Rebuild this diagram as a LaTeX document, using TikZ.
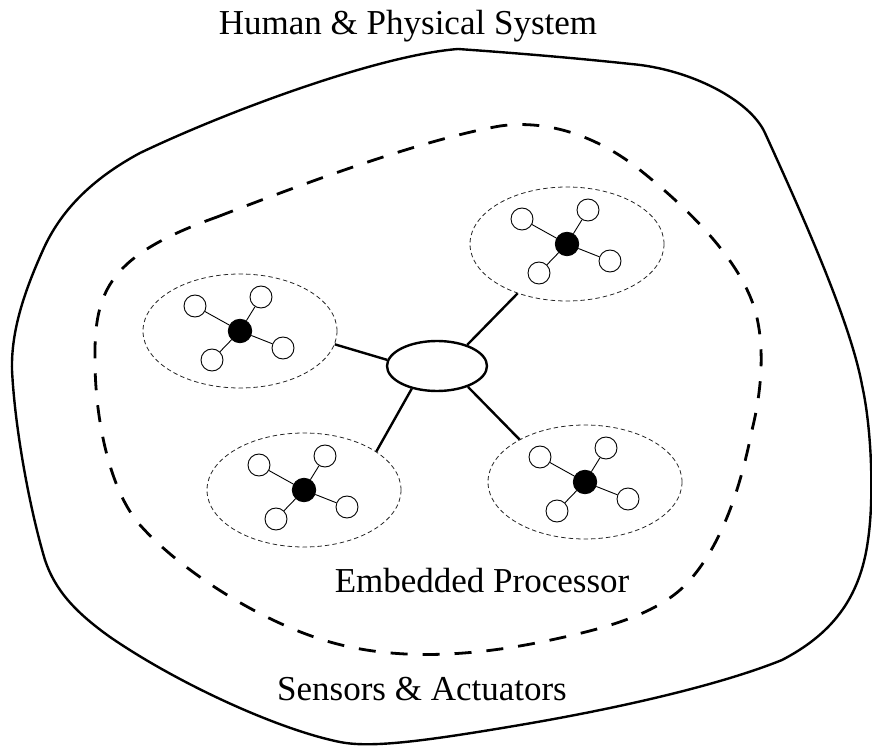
\documentclass[tikz,border=0pt]{standalone}
\usepackage{fontspec}
\setmainfont{Liberation Serif}
\usetikzlibrary{shapes.geometric,calc}
\tikzset{
  grp/.style={ellipse,draw=black!85,line width=0.8pt,dash pattern=on 4.5pt off 3pt,minimum width=194pt,minimum height=114pt,inner sep=0pt},
  hub/.style={circle,fill=black,draw=black,line width=0.8pt,minimum size=23.5pt,inner sep=0pt},
  leaf/.style={circle,fill=white,draw=black,line width=0.9pt,minimum size=22pt,inner sep=0pt},
  spoke/.style={line width=0.9pt},
  core/.style={ellipse,draw=black,line width=2.4pt,minimum width=100pt,minimum height=50pt,inner sep=0pt},
  link/.style={line width=2.4pt},
  outerline/.style={line width=2.4pt},
  procline/.style={line width=2.8pt,dash pattern=on 17pt off 15pt},
  lbl/.style={font=\fontsize{35}{40}\selectfont,anchor=base,inner sep=0pt}
}
\newcommand\mycluster[2]{%
  \node[grp] (#1) at (#2) {};
  \node[hub] (#1h) at (#2) {};
  \node[leaf] (#1a) at ($(#2)+(-45,25)$) {};
  \node[leaf] (#1b) at ($(#2)+(21,34)$) {};
  \node[leaf] (#1c) at ($(#2)+(43,-17)$) {};
  \node[leaf] (#1d) at ($(#2)+(-28,-29)$) {};
  \draw[spoke] (#1h) -- (#1a);
  \draw[spoke] (#1h) -- (#1b);
  \draw[spoke] (#1h) -- (#1c);
  \draw[spoke] (#1h) -- (#1d);
}
\begin{document}
\begin{tikzpicture}[x=1pt,y=1pt]
\useasboundingbox (0,0) rectangle (872,745);
\begin{scope}[shift={(0,745)},yscale=-1]
% outer boundary (image coordinates, y downwards)
\draw[outerline] (458,49)
  .. controls (515,53) and (575,58) .. (631,64)
  .. controls (690,69) and (750,100) .. (765,133)
  .. controls (800,210) and (850,320) .. (862,385)
  .. controls (872,430) and (874,500) .. (868,540)
  .. controls (860,600) and (830,635) .. (782,660)
  .. controls (720,685) and (620,708) .. (520,725)
  .. controls (420,742) and (370,748) .. (340,742)
  .. controls (280,730) and (180,685) .. (110,637)
  .. controls (75,612) and (55,590) .. (45,560)
  .. controls (30,510) and (15,430) .. (12,370)
  .. controls (11,330) and (25,290) .. (43,250)
  .. controls (60,212) and (90,180) .. (140,153)
  .. controls (230,110) and (380,55) .. (458,49) -- cycle;
% dashed processor boundary
\draw[procline] (217,217)
  .. controls (300,185) and (420,140) .. (500,126)
  .. controls (550,119) and (600,138) .. (640,170)
  .. controls (690,210) and (740,260) .. (755,310)
  .. controls (765,345) and (762,390) .. (752,430)
  .. controls (742,480) and (725,540) .. (690,580)
  .. controls (665,609) and (620,625) .. (560,638)
  .. controls (480,656) and (400,662) .. (330,642)
  .. controls (260,622) and (180,570) .. (140,525)
  .. controls (110,491) and (95,420) .. (95,360)
  .. controls (94,290) and (110,255) .. (217,217) -- cycle;
\end{scope}
% central processor
\node[core] (c) at (437,379) {};
% clusters
\mycluster{ga}{240,414}
\mycluster{gb}{567,501}
\mycluster{gc}{304,255}
\mycluster{gd}{585,263}
% links
\draw[link] (c.173) -- (ga.352);
\draw[link] (c.35) -- (gb.225);
\draw[link] (c.222) -- (gc.28);
\draw[link] (c.326) -- (gd.147);
% labels
\node[lbl] (t1) at (408,710) {Human \& Physical System};
\node[lbl] (t2) at (482,153) {Embedded Processor};
\node[lbl] (t3) at (422,45) {Sensors \& Actuators};
\end{tikzpicture}
\end{document}
